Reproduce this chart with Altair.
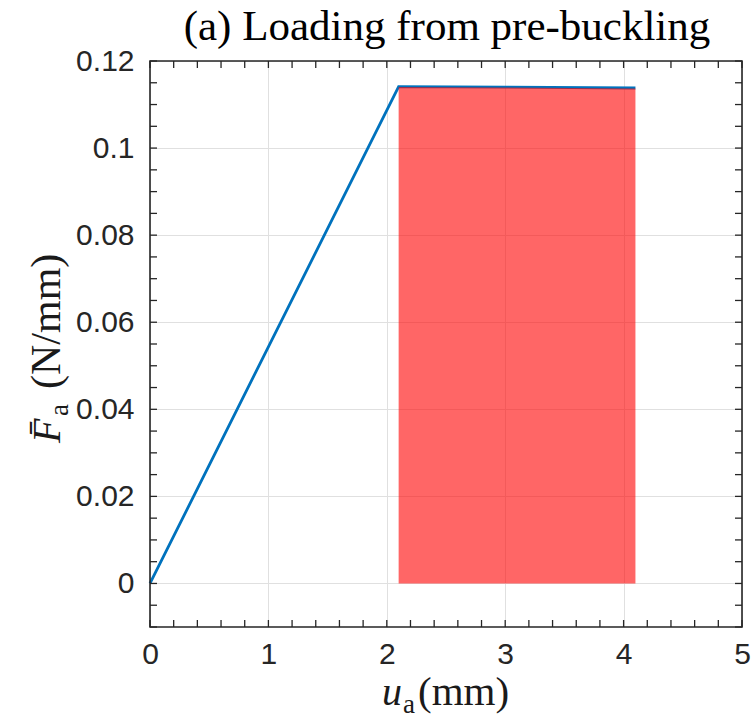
import altair as alt
import pandas as pd

# ---- data ----
curve_u = [0.0, 2.1, 3.0, 4.1]
curve_f = [0.0, 0.1141, 0.1140, 0.1138]

band_u = [2.1, 3.0, 4.1]
band_top = [0.1140, 0.1139, 0.1137]

x_tick_labels = [0, 1, 2, 3, 4, 5]
y_tick_labels = [0, 0.02, 0.04, 0.06, 0.08, 0.1, 0.12]

x_ticks = [0.0, 0.2, 0.4, 0.6, 0.8, 1.0, 1.2, 1.4, 1.6, 1.8, 2.0, 2.2, 2.4,
           2.6, 2.8, 3.0, 3.2, 3.4, 3.6, 3.8, 4.0, 4.2, 4.4, 4.6, 4.8, 5.0]
y_ticks = [-0.01, -0.005, 0.0, 0.005, 0.01, 0.015, 0.02, 0.025, 0.03, 0.035,
           0.04, 0.045, 0.05, 0.055, 0.06, 0.065, 0.07, 0.075, 0.08, 0.085,
           0.09, 0.095, 0.1, 0.105, 0.11, 0.115, 0.12]

title_text = "(a) Loading from pre-buckling"
x_title_var, x_title_sub, x_title_unit = "u", "a", "(mm)"
y_title_var, y_title_sub, y_title_unit = "F\u0304", "a", "(N/mm)"

# ---- layout ----
W, H = 592, 566
TICK = 7
INK = "#262626"

curve_df = pd.DataFrame({"u": curve_u, "f": curve_f})
band_df = pd.DataFrame({"u": band_u, "f": band_top})
xt_df = pd.DataFrame({"u": x_ticks})
yt_df = pd.DataFrame({"f": y_ticks})
one = pd.DataFrame({"k": [0]})

xs = alt.Scale(domain=[0, 5], nice=False, zero=False)
ys = alt.Scale(domain=[-0.01, 0.12], nice=False, zero=False)

common_axis = dict(
    title=None, grid=True, gridColor="#e0e0e0", gridWidth=1,
    ticks=False, domain=False,
    labelFont="Liberation Sans", labelFontSize=30, labelColor=INK,
    labelFlush=False, labelOverlap=False,
)
x_axis = alt.Axis(values=x_tick_labels, format="d", labelPadding=12, **common_axis)
y_axis = alt.Axis(values=y_tick_labels, format=".2~f", labelPadding=16, **common_axis)

X = alt.X("u:Q", scale=xs, axis=x_axis)
Y = alt.Y("f:Q", scale=ys, axis=y_axis)

line = alt.Chart(curve_df).mark_line(color="#0072BD", strokeWidth=2.8).encode(x=X, y=Y)

band = alt.Chart(band_df).mark_area(color="#FF0000", opacity=0.6).encode(
    x=X, y=Y, y2=alt.datum(0))

tick_style = dict(color=INK, strokeWidth=1.3)
x_bottom = alt.Chart(xt_df).mark_rule(**tick_style).encode(
    x=X, y=alt.value(H), y2=alt.value(H - TICK))
x_top = alt.Chart(xt_df).mark_rule(**tick_style).encode(
    x=X, y=alt.value(0), y2=alt.value(TICK))
y_left = alt.Chart(yt_df).mark_rule(**tick_style).encode(
    y=Y, x=alt.value(0), x2=alt.value(TICK))
y_right = alt.Chart(yt_df).mark_rule(**tick_style).encode(
    y=Y, x=alt.value(W), x2=alt.value(W - TICK))

frame = alt.Chart(one).mark_rect(fillOpacity=0, stroke=INK, strokeWidth=1.6).encode(
    x=alt.value(0), x2=alt.value(W), y=alt.value(0), y2=alt.value(H))

serif = "Liberation Serif"
TXT = "#1a1a1a"

def label(text, x, y, size, italic=False, angle=0, align="left", color=TXT):
    kw = dict(font=serif, fontSize=size, align=align, baseline="alphabetic", color=color)
    if italic:
        kw["fontStyle"] = "italic"
    if angle:
        kw["angle"] = angle
    return alt.Chart(pd.DataFrame({"s": [text]})).mark_text(**kw).encode(
        text="s:N", x=alt.value(x), y=alt.value(y))

# chart title
ttl = label(title_text, 297, -21, 43, align="center", color="#000000")

# x-axis title: u_a(mm)
xl1 = label(x_title_var, 232, 644, 40, italic=True)
xl2 = label(x_title_sub, 253, 652, 27)
xl3 = label(x_title_unit, 268, 644, 41)

# y-axis title: F̄_a (N/mm), rotated
yl1 = label(y_title_var, -90, 382, 40, italic=True, angle=270)
yl2 = label(y_title_sub, -82, 355, 27, angle=270)
yl3 = label(y_title_unit, -90, 328, 42, angle=270)

chart = alt.layer(
    line, band, x_bottom, x_top, y_left, y_right, frame,
    ttl, xl1, xl2, xl3, yl1, yl2, yl3,
).properties(
    width=W, height=H,
    autosize=alt.AutoSizeParams(type="none"),
    padding={"left": 150, "top": 61, "right": 9, "bottom": 91},
    background="white",
).configure_view(strokeWidth=0)

chart.save("out.html", embed_options={"renderer": "svg", "actions": False})
